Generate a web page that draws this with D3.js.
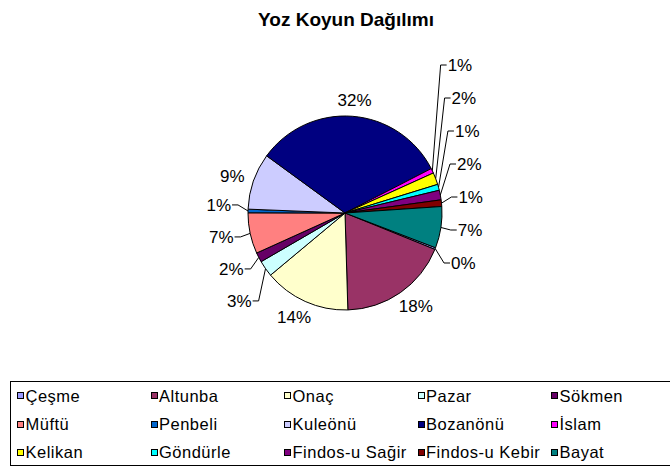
<!DOCTYPE html>
<html><head><meta charset="utf-8">
<script src="https://cdn.jsdelivr.net/npm/d3@7"></script>
<style>body{margin:0;background:#fff} svg{display:block;font-family:"Liberation Sans",Arial,sans-serif}</style>
</head><body><svg id="c" width="670" height="468"></svg>
<script>
const title = "Yoz Koyun Dağılımı";
const categories = ["Çeşme","Altunba","Onaç","Pazar","Sökmen","Müftü","Penbeli","Kuleönü","Bozanönü","İslam","Kelikan","Göndürle","Findos-u Sağir","Findos-u Kebir","Bayat"];
const values = [0.3,18.4,14.4,2.7,1.6,6.8,0.6,9.4,32.4,0.8,2.0,1.0,1.6,1.1,6.9];
const colors = ["#9999FF","#993366","#FFFFCC","#CCFFFF","#660066","#FF8080","#0066CC","#CCCCFF","#000080","#FF00FF","#FFFF00","#00FFFF","#800080","#800000","#008080"];

const svg = d3.select("#c");
const cx = 345, cy = 213, r = 97;
const total = d3.sum(values);
const a0 = 111 * Math.PI / 180;
const pie = d3.pie().sort(null).value(d => d).startAngle(a0).endAngle(a0 + 2 * Math.PI);
const arcs = pie(values);
const arc = d3.arc().innerRadius(0).outerRadius(r);

svg.append("text").attr("x", 346).attr("y", 26).attr("text-anchor", "middle")
  .attr("font-weight", "bold").attr("font-size", 19).text(title);

const g = svg.append("g").attr("transform", `translate(${cx},${cy})`);
g.selectAll("path.slice").data(arcs).join("path").attr("class", "slice")
  .attr("d", arc).attr("fill", (d, i) => colors[i])
  .attr("stroke", "#000").attr("stroke-width", 1).attr("stroke-linejoin", "round");

// labels
const fs = 17, capH = 12.5;
const pct = v => Math.round(v / total * 100) + "%";
const items = arcs.map((d, i) => {
  const a = (d.startAngle + d.endAngle) / 2;
  return { i, a, s: Math.sin(a), c: -Math.cos(a), text: pct(values[i]), v: values[i], small: values[i] / total < 0.08 };
});

const lab = g.append("g").attr("font-size", fs);
// big labels (no leader)
items.filter(d => !d.small).forEach(d => {
  const t = lab.append("text").attr("text-anchor", "middle").text(d.text);
  const w = t.node().getComputedTextLength();
  const R0 = r + 10;
  const x = R0 * d.s + w / 2 * d.s;
  const y = R0 * d.c + capH / 2 * d.c;
  t.attr("x", x).attr("y", y + capH / 2);
});

// small labels with leaders, stacked per side
const RL = r + 17;
function layoutSide(list, sp) {
  list.forEach(d => { d.nx = RL * d.s; d.ny = RL * d.c; d.y = d.ny; });
  list.sort((p, q) => p.ny - q.ny);
  let k = d3.maxIndex(list, d => d.v);
  for (let j = k - 1; j >= 0; j--) list[j].y = Math.min(list[j].ny, list[j + 1].y - sp);
  for (let j = k + 1; j < list.length; j++) list[j].y = Math.max(list[j].ny, list[j - 1].y + sp);
}
const right = items.filter(d => d.small && d.s > 0);
const left = items.filter(d => d.small && d.s <= 0);
layoutSide(right, 33);
layoutSide(left, 32);
[...right, ...left].forEach(d => {
  const sg = d.s > 0 ? 1 : -1;
  const pts = [[r * d.s, r * d.c], [d.nx - 7 * sg, d.y], [d.nx - 1 * sg, d.y]];
  lab.append("path").attr("d", d3.line()(pts)).attr("fill", "none").attr("stroke", "#000").attr("stroke-width", 1);
  lab.append("text").attr("text-anchor", sg > 0 ? "start" : "end")
    .attr("x", d.nx).attr("y", d.y + capH / 2).text(d.text);
});

// legend
const lg = svg.append("g");
lg.append("rect").attr("x", 10.5).attr("y", 381.5).attr("width", 670).attr("height", 84)
  .attr("fill", "#fff").attr("stroke", "#000");
const colW = 133.5, rowH = 28.3;
categories.forEach((name, i) => {
  const col = i % 5, row = Math.floor(i / 5);
  const x = 17 + col * colW, y = 395.7 + row * rowH;
  lg.append("rect").attr("x", Math.round(x) + 0.5).attr("y", Math.round(y - 3.5) + 0.5)
    .attr("width", 6).attr("height", 6).attr("fill", colors[i]).attr("stroke", "#000");
  lg.append("text").attr("x", x + 8.5).attr("y", y + 5.8).attr("font-size", 16.5)
    .attr("letter-spacing", 0.5).text(name);
});
</script></body></html>
